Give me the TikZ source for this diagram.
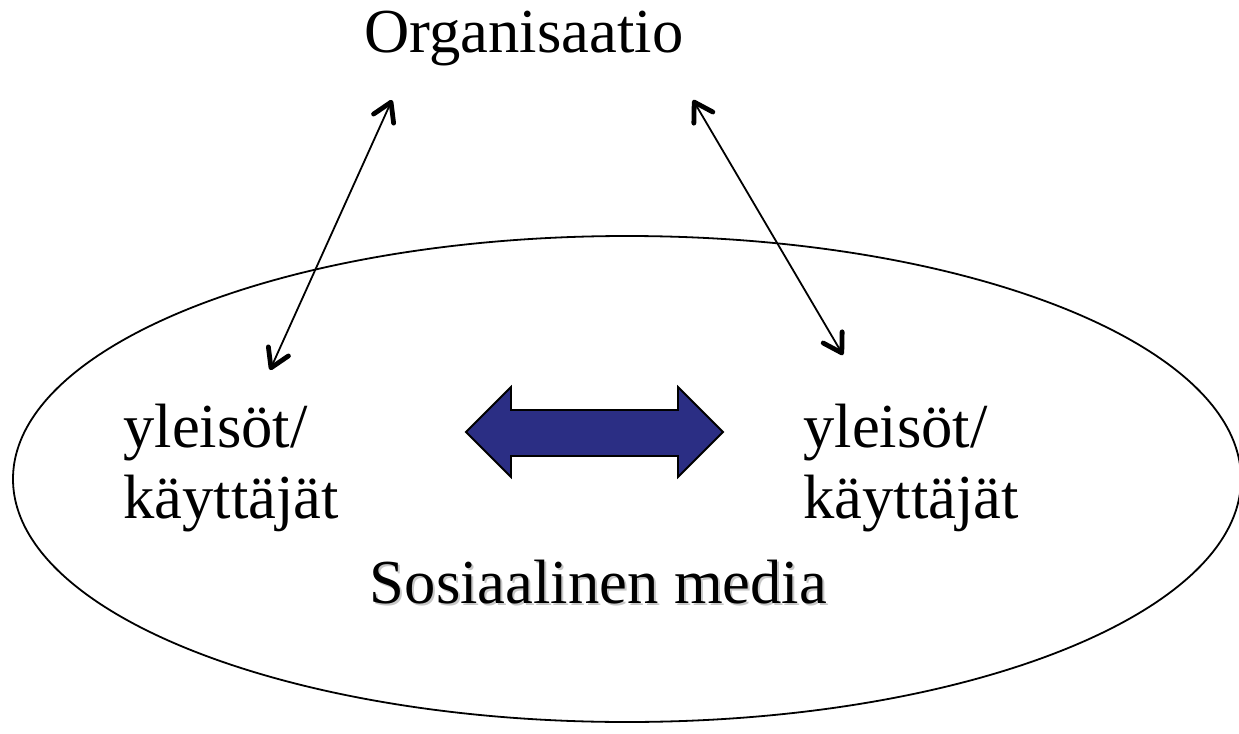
\documentclass[tikz,border=0pt]{standalone}
\usepackage{fontspec}
\setmainfont{Liberation Serif}
\usepackage{tikz}
\usetikzlibrary{arrows.meta}
\definecolor{navyarrow}{RGB}{43,46,132}
\tikzset{
  label text/.style={inner sep=0pt, font=\fontsize{31.3pt}{35.5pt}\selectfont},
  users/.style={label text, align=left, anchor=base west},
  link/.style={line width=0.9pt, {Straight Barb[length=9pt,width=11pt,line width=2.4pt,round]}-{Straight Barb[length=9pt,width=11pt,line width=2.4pt,round]}}
}
\begin{document}
\begin{tikzpicture}[x=0.5pt, y=-0.5pt]
            \useasboundingbox (0,0) rectangle (1239,734);
            \coordinate (orgL) at (392,100);
            \coordinate (orgR) at (693,100);
            \coordinate (usrL) at (270,370);
            \coordinate (usrR) at (843,355);
            \draw[line width=0.9pt] (627,479) ellipse [x radius=614, y radius=243];
            \node[label text, anchor=base] (org) at (524,52) {Organisaatio};
            \node[users] (left) at (123,518) {yleisöt/\\käyttäjät};
            \node[users] (right) at (803,518) {yleisöt/\\käyttäjät};
            \node[label text, anchor=base, text=black!22] at (600.5,605.5) {Sosiaalinen media};
            \node[label text, anchor=base] (media) at (598.5,603) {Sosiaalinen media};
            \draw[link] (usrL) -- (orgL);
            \draw[link] (usrR) -- (orgR);
            \draw[line width=0.9pt, fill=navyarrow] (466,432) -- (511,387) -- (511,410) -- (678,410)
               -- (678,387) -- (723,432) -- (678,477) -- (678,456) -- (511,456) -- (511,477) -- cycle;
        \end{tikzpicture}
\end{document}
